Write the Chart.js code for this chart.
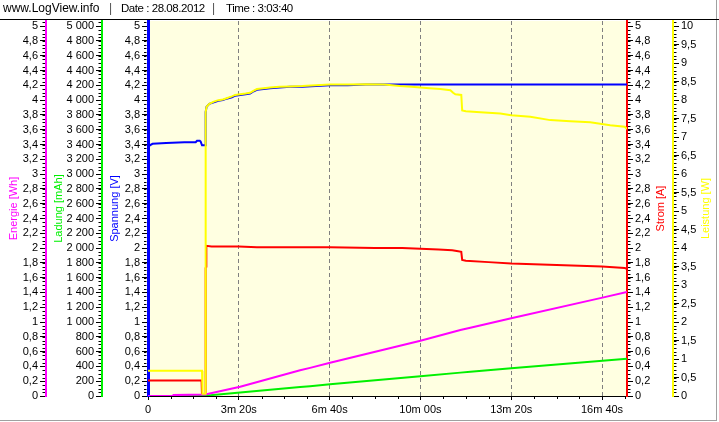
<!DOCTYPE html>
<html><head><meta charset="utf-8">
<script src="https://cdn.jsdelivr.net/npm/chart.js@4.4.1/dist/chart.umd.min.js"></script>
<style>
html,body{margin:0;padding:0;background:#fff;}
#wrap{position:absolute;left:0;top:0;width:716px;height:420px;border-right:1px solid #a0a0a0;border-bottom:1px solid #a0a0a0;}
canvas{position:absolute;left:0;top:0;}
#hdr{position:absolute;left:0;top:0;width:719px;height:18px;font:12px "Liberation Sans",Arial,sans-serif;color:#000;}
#hdr span{position:absolute;top:2px;line-height:12px;white-space:nowrap;}
#hdr span.sm{font-size:11.5px;letter-spacing:-0.45px;top:2px;}
#hdr span.sep{color:#505050;}
#hline{position:absolute;left:0;top:19px;width:719px;height:1px;background:#000;}
</style></head><body>
<div id="wrap"><canvas id="c" width="716" height="420"></canvas></div>
<div id="hdr"><span style="left:3px">www.LogView.info</span><span class="sep" style="left:109px">|</span><span class="sm" style="left:121px">Date : 28.08.2012</span><span class="sep" style="left:212px">|</span><span class="sm" style="left:226px">Time : 3:03:40</span></div>
<div id="hline"></div>
<script>
// ---------- data (time in seconds) ----------
const xMax = 1055;
const xTickValues = [0, 200, 400, 600, 800, 1000];
const xTickLabels = ['0', '3m 20s', '6m 40s', '10m 00s', '13m 20s', '16m 40s'];

// Spannung [V]
const voltT = [0, 1, 4, 10, 40, 80, 105, 108, 114, 116, 119, 125, 126, 127, 129, 135, 145, 155, 165, 173, 185, 192, 203, 215, 225, 233, 240, 255, 269, 290, 313, 340, 370, 401, 440, 480, 520, 1055];
const voltV = [3.08, 3.36, 3.39, 3.41, 3.42, 3.43, 3.43, 3.45, 3.45, 3.44, 3.39, 3.39, 3.39, 3.84, 3.91, 3.95, 3.97, 3.99, 4.00, 4.02, 4.04, 4.06, 4.07, 4.08, 4.09, 4.12, 4.14, 4.15, 4.16, 4.17, 4.18, 4.18, 4.19, 4.20, 4.20, 4.21, 4.21, 4.21];

// Strom [A]
const currT = [0, 118, 119, 126, 127, 128, 128.5, 140, 200, 240, 300, 400, 500, 560, 600, 640, 670, 680, 690, 692, 700, 750, 800, 850, 900, 950, 1000, 1050, 1055];
const currA = [0.21, 0.21, 0.0, 0.0, 1.73, 1.75, 2.03, 2.02, 2.02, 2.01, 2.01, 2.01, 2.00, 2.00, 1.99, 1.98, 1.97, 1.96, 1.95, 1.84, 1.83, 1.81, 1.79, 1.78, 1.77, 1.76, 1.75, 1.73, 1.72];

// Leistung [W]
const powT = [0, 119, 120, 126, 127, 129, 135, 145, 155, 165, 173, 185, 192, 203, 215, 225, 233, 240, 255, 269, 290, 313, 340, 370, 401, 440, 480, 520, 555, 580, 600, 620, 644, 666, 672, 677, 690, 692, 700, 732, 776, 800, 842, 886, 930, 974, 1018, 1050, 1055];
const powW = [0.68, 0.68, 0.06, 0.06, 7.68, 7.82, 7.90, 7.96, 8.00, 8.02, 8.05, 8.10, 8.14, 8.16, 8.18, 8.20, 8.26, 8.30, 8.32, 8.34, 8.36, 8.37, 8.38, 8.40, 8.42, 8.42, 8.43, 8.42, 8.38, 8.36, 8.34, 8.32, 8.30, 8.27, 8.20, 8.16, 8.14, 7.72, 7.70, 7.67, 7.64, 7.59, 7.55, 7.46, 7.43, 7.40, 7.32, 7.28, 7.22];

// Energie [Wh]
const enT = [0, 55, 56, 126, 203, 335, 357, 401, 600, 688, 710, 800, 1001, 1055];
const enWh = [0, 0, 0.012, 0.02, 0.126, 0.347, 0.38, 0.45, 0.747, 0.892, 0.923, 1.05, 1.33, 1.405];

// Ladung [mAh]
const chT = [0, 55, 126, 203, 335, 357, 401, 600, 688, 710, 800, 1001, 1055];
const chMah = [0, 0, 4, 47, 121, 133, 158, 268, 316, 328, 376, 476, 503];

// ---------- tick labels ----------
const tick5Values = Array.from({length: 26}, (_, i) => Math.round(i * 2) / 10);
const tick5Labels = tick5Values.map(v => String(v).replace('.', ','));
const chargeTickValues = Array.from({length: 26}, (_, i) => i * 200);
const chargeTickLabels = chargeTickValues.map(v => v >= 1000 ? Math.floor(v / 1000) + ' ' + String(v % 1000).padStart(3, '0') : String(v));
const powerTickValues = Array.from({length: 21}, (_, i) => i / 2);
const powerTickLabels = powerTickValues.map(v => String(v).replace('.', ','));

const C = {mag: '#FF00FF', grn: '#00F000', blu: '#0000FF', red: '#FF0000', yel: '#FFFF00'};
const FONT = {family: '"Liberation Sans", Arial, sans-serif', size: 11};
const pts = (t, v) => t.map((x, i) => ({x: x, y: v[i]}));

function yScale(pos, weight, color, bw, max, tv, tl, width, minorStep) {
  return {
    type: 'linear', position: pos, weight: weight, min: 0, max: max,
    minorStep: minorStep,
    afterBuildTicks: s => { s.ticks = tv.map(v => ({value: v})); },
    afterFit: s => { s.width = width; s.paddingTop = 0; s.paddingBottom = 0; },
    ticks: {autoSkip: false, color: '#000', font: FONT, padding: 2, callback: (v, i) => tl[i]},
    grid: {drawOnChartArea: false, drawTicks: true, tickLength: 6, tickColor: '#000', tickWidth: 1, color: 'rgba(0,0,0,0)'},
    border: {display: true, color: color, width: bw}
  };
}

const bgPlugin = {
  id: 'bg',
  beforeDraw(chart) {
    const a = chart.chartArea, ctx = chart.ctx;
    ctx.save();
    ctx.fillStyle = '#FFFFE1';
    ctx.fillRect(a.left, a.top, a.right - a.left, a.bottom - a.top);
    ctx.restore();
  }
};

const minorPlugin = {
  id: 'minor',
  beforeDatasetsDraw(chart) {
    const ctx = chart.ctx;
    ctx.save();
    ctx.strokeStyle = '#000';
    ctx.lineWidth = 1;
    ctx.beginPath();
    for (const id of ['yE', 'yQ', 'yV', 'yI', 'yP']) {
      const s = chart.scales[id];
      const step = s.options.minorStep;
      const bw = s.options.border.width;
      const n = Math.round(s.options.max / step);
      for (let k = 0; k <= n; k++) {
        const v = k * step;
        if (v > s.options.max + 1e-9) break;
        const y = Math.round(s.getPixelForValue(v)) + 0.5;
        if (s.position === 'left') {
          const x = s.right - bw / 2;
          ctx.moveTo(x - 2.5, y); ctx.lineTo(x, y);
        } else {
          const x = s.left + bw / 2;
          ctx.moveTo(x, y); ctx.lineTo(x + 2.5, y);
        }
      }
    }
    const xs = chart.scales.x;
    for (let v = 50; v < xMax; v += 50) {
      if (v % 200 === 0) continue;
      const x = Math.round(xs.getPixelForValue(v)) + 0.5;
      ctx.moveTo(x, xs.top); ctx.lineTo(x, xs.top + 3);
    }
    ctx.stroke();
    ctx.restore();
  }
};

const titlePlugin = {
  id: 'titles',
  afterDraw(chart) {
    const ctx = chart.ctx, a = chart.chartArea;
    const cy = (a.top + a.bottom) / 2;
    const items = [
      ['Energie [Wh]', 14, C.mag], ['Ladung [mAh]', 58.5, C.grn], ['Spannung [V]', 115, C.blu],
      ['Strom [A]', 660.5, C.red], ['Leistung [W]', 706, C.yel]
    ];
    ctx.save();
    ctx.font = '11px "Liberation Sans", Arial, sans-serif';
    ctx.textAlign = 'center';
    ctx.textBaseline = 'middle';
    for (const [t, x, c] of items) {
      ctx.save();
      ctx.translate(x, cy);
      ctx.rotate(-Math.PI / 2);
      ctx.fillStyle = c;
      ctx.fillText(t, 0, 0);
      ctx.restore();
    }
    ctx.restore();
  }
};

const ds = (label, data, color, yAxisID) => ({
  label, data, borderColor: color, backgroundColor: color, borderWidth: 2,
  pointRadius: 0, tension: 0, fill: false, yAxisID
});

new Chart(document.getElementById('c'), {
  type: 'line',
  data: {
    datasets: [
      ds('Leistung', pts(powT, powW), C.yel, 'yP'),
      ds('Spannung', pts(voltT, voltV), C.blu, 'yV'),
      ds('Energie', pts(enT, enWh), C.mag, 'yE'),
      ds('Ladung', pts(chT, chMah), C.grn, 'yQ'),
      ds('Strom', pts(currT, currA), C.red, 'yI')
    ]
  },
  options: {
    responsive: false, animation: false, devicePixelRatio: 1,
    parsing: {xAxisKey: 'x', yAxisKey: 'y'},
    layout: {padding: {top: 21, left: 0, right: 0, bottom: 0}},
    plugins: {legend: {display: false}, tooltip: {enabled: false}},
    scales: {
      x: {
        type: 'linear', position: 'bottom', min: 0, max: xMax,
        afterBuildTicks: s => { s.ticks = xTickValues.map(v => ({value: v})); },
        afterFit: s => { s.height = 24; s.paddingLeft = 0; s.paddingRight = 0; },
        ticks: {autoSkip: false, maxRotation: 0, color: '#000', font: FONT, padding: 3, callback: (v, i) => xTickLabels[i]},
        grid: {color: c => (c.tick && c.tick.value === 0) ? 'rgba(0,0,0,0)' : '#808080', lineWidth: 1, drawTicks: true, tickLength: 4, tickColor: '#000', tickBorderDash: []},
        border: {display: true, color: '#000', width: 1, dash: [4, 3]}
      },
      yE: yScale('left', 3, C.mag, 2, 5.07, tick5Values, tick5Labels, 46, 0.05),
      yQ: yScale('left', 2, C.grn, 2, 5070, chargeTickValues, chargeTickLabels, 56, 50),
      yV: yScale('left', 1, C.blu, 3, 5.07, tick5Values, tick5Labels, 46, 0.05),
      yI: yScale('right', 1, C.red, 2, 5.07, tick5Values, tick5Labels, 46, 0.05),
      yP: yScale('right', 2, C.yel, 2, 10.14, powerTickValues, powerTickLabels, 43, 0.1)
    }
  },
  plugins: [bgPlugin, minorPlugin, titlePlugin]
});
</script>
</body></html>
